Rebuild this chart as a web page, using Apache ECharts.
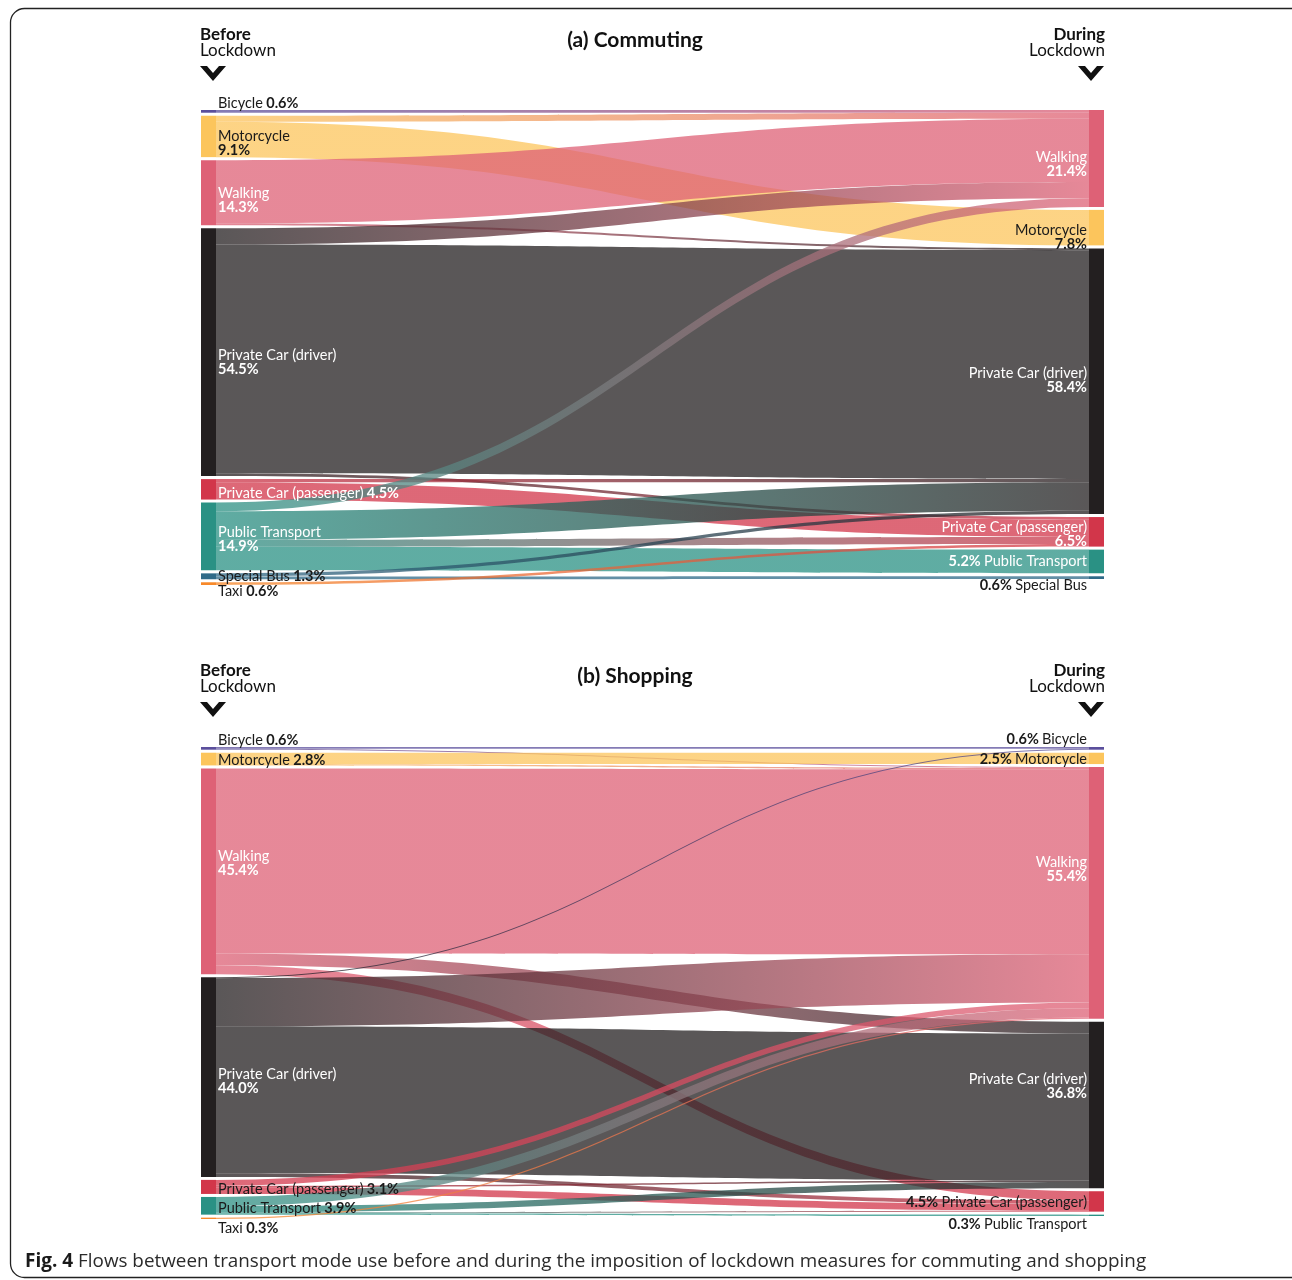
<!DOCTYPE html>
<html>
<head>
<meta charset="utf-8">
<script src="https://cdn.jsdelivr.net/npm/echarts@6/dist/echarts.min.js"></script>
<style>
html,body{margin:0;padding:0;background:#fff;}
#chart{width:1292px;height:1280px;}
</style>
</head>
<body>
<div id="chart"></div>
<script>
// ---------------- DATA ----------------
const commuteBeforeModes = ['Bicycle','Motorcycle','Walking','Private Car (driver)','Private Car (passenger)','Public Transport','Special Bus','Taxi'];
const commuteBeforeShare = [0.6, 9.1, 14.3, 54.5, 4.5, 14.9, 1.3, 0.6];
const commuteDuringModes = ['Walking','Motorcycle','Private Car (driver)','Private Car (passenger)','Public Transport','Special Bus'];
const commuteDuringShare = [21.4, 7.8, 58.4, 6.5, 5.2, 0.6];
const commuteFlows = [
  ['Bicycle','Walking',0.6],
  ['Motorcycle','Walking',1.3],
  ['Motorcycle','Motorcycle',7.8],
  ['Walking','Walking',13.9],
  ['Walking','Private Car (driver)',0.4],
  ['Private Car (driver)','Walking',3.6],
  ['Private Car (driver)','Private Car (driver)',50.3],
  ['Private Car (driver)','Private Car (passenger)',0.6],
  ['Private Car (passenger)','Private Car (driver)',0.7],
  ['Private Car (passenger)','Private Car (passenger)',3.8],
  ['Public Transport','Walking',1.9],
  ['Public Transport','Private Car (driver)',6.3],
  ['Public Transport','Private Car (passenger)',1.5],
  ['Public Transport','Public Transport',5.2],
  ['Special Bus','Private Car (driver)',0.7],
  ['Special Bus','Special Bus',0.6],
  ['Taxi','Private Car (passenger)',0.6]
];

const shopBeforeModes = ['Bicycle','Motorcycle','Walking','Private Car (driver)','Private Car (passenger)','Public Transport','Taxi'];
const shopBeforeShare = [0.6, 2.8, 45.4, 44.0, 3.1, 3.9, 0.3];
const shopDuringModes = ['Bicycle','Motorcycle','Walking','Private Car (driver)','Private Car (passenger)','Public Transport'];
const shopDuringShare = [0.6, 2.5, 55.4, 36.8, 4.5, 0.3];
const shopFlows = [
  ['Bicycle','Bicycle',0.4],
  ['Bicycle','Walking',0.2],
  ['Motorcycle','Motorcycle',2.5],
  ['Motorcycle','Walking',0.3],
  ['Walking','Walking',40.8],
  ['Walking','Private Car (driver)',2.6],
  ['Walking','Private Car (passenger)',2.0],
  ['Private Car (driver)','Bicycle',0.2],
  ['Private Car (driver)','Walking',10.6],
  ['Private Car (driver)','Private Car (driver)',32.4],
  ['Private Car (driver)','Private Car (passenger)',0.8],
  ['Private Car (passenger)','Walking',1.3],
  ['Private Car (passenger)','Private Car (driver)',0.3],
  ['Private Car (passenger)','Private Car (passenger)',1.5],
  ['Public Transport','Walking',2.0],
  ['Public Transport','Private Car (driver)',1.4],
  ['Public Transport','Private Car (passenger)',0.2],
  ['Public Transport','Public Transport',0.3],
  ['Taxi','Walking',0.3]
];

const panelTitles = ['(a) Commuting', '(b) Shopping'];
const captionBold = 'Fig. 4';
const captionText = ' Flows between transport mode use before and during the imposition of lockdown measures for commuting and shopping';

// ---------------- STYLE ----------------
const modeColor = {
  'Bicycle': '#5b4f9c',
  'Motorcycle': '#fcc55c',
  'Walking': '#de6176',
  'Private Car (driver)': '#231f20',
  'Private Car (passenger)': '#d2364a',
  'Public Transport': '#2a9184',
  'Special Bus': '#2f6a88',
  'Taxi': '#f7892a'
};
const FONT = 'Lato';
// label tweaks: inline (one line), pctFirst, dy offset, white text
const labelTweaks = {
  c: {
    B: {
      'Bicycle': {inline:true, dy:-8},
      'Motorcycle': {dy:7},
      'Walking': {white:true, dy:8},
      'Private Car (driver)': {white:true, dy:10},
      'Private Car (passenger)': {inline:true, white:true, dy:4},
      'Public Transport': {white:true, dy:3},
      'Special Bus': {inline:true, dy:0},
      'Taxi': {inline:true, dy:8}
    },
    D: {
      'Walking': {white:true, dy:6},
      'Motorcycle': {dy:10},
      'Private Car (driver)': {white:true, dy:-1},
      'Private Car (passenger)': {white:true, dy:2},
      'Public Transport': {inline:true, pctFirst:true, white:true},
      'Special Bus': {inline:true, pctFirst:true, dy:8}
    }
  },
  s: {
    B: {
      'Bicycle': {inline:true, dy:-8},
      'Motorcycle': {inline:true, dy:1},
      'Walking': {white:true, dy:-8},
      'Private Car (driver)': {white:true, dy:4},
      'Private Car (passenger)': {inline:true, dy:2},
      'Public Transport': {inline:true, dy:3},
      'Taxi': {inline:true, dy:10}
    },
    D: {
      'Bicycle': {inline:true, pctFirst:true, dy:-9},
      'Motorcycle': {inline:true, pctFirst:true, dy:1},
      'Walking': {white:true, dy:-24},
      'Private Car (driver)': {white:true, dy:-19},
      'Private Car (passenger)': {inline:true, pctFirst:true, dy:1},
      'Public Transport': {inline:true, pctFirst:true, dy:9}
    }
  }
};

function makeNode(chart, side, mode, share) {
  const tw = labelTweaks[chart][side][mode] || {};
  const col = tw.white ? '#ffffff' : '#1a1a1a';
  const pct = share.toFixed(1) + '%';
  let fmt;
  if (tw.inline) {
    fmt = tw.pctFirst ? '{v|' + pct + '} {n|' + mode + '}' : '{n|' + mode + '} {v|' + pct + '}';
  } else {
    fmt = '{n|' + mode + '}\n{v|' + pct + '}';
  }
  return {
    name: side + ':' + mode,
    itemStyle: {color: modeColor[mode], borderWidth: 0},
    label: {
      show: true,
      position: side === 'B' ? 'right' : 'left',
      distance: 2,
      align: side === 'B' ? 'left' : 'right',
      offset: [0, tw.dy || 0],
      formatter: fmt,
      rich: {
        n: {fontFamily: FONT, fontSize: 14.5, color: col, lineHeight: 14, align: side === 'B' ? 'left' : 'right'},
        v: {fontFamily: FONT, fontSize: 14.5, fontWeight: 'bold', color: col, lineHeight: 14, align: side === 'B' ? 'left' : 'right'}
      }
    }
  };
}

function buildSeries(chart, beforeModes, beforeShare, duringModes, duringShare, flows, top, height) {
  const nodes = [];
  beforeModes.forEach((m, i) => nodes.push(makeNode(chart, 'B', m, beforeShare[i])));
  duringModes.forEach((m, i) => nodes.push(makeNode(chart, 'D', m, duringShare[i])));
  const links = flows.map(f => ({source: 'B:' + f[0], target: 'D:' + f[1], value: f[2]}));
  return {
    type: 'sankey',
    left: 201,
    top: top,
    width: 903,
    height: height,
    nodeWidth: 15,
    nodeGap: 3,
    layoutIterations: 0,
    nodeAlign: 'justify',
    draggable: false,
    animation: false,
    data: nodes,
    links: links,
    lineStyle: {color: 'gradient', opacity: 0.75, curveness: 0.5},
    emphasis: {disabled: true},
    label: {show: true}
  };
}

function chevron(x, y) {
  return {
    type: 'polygon',
    shape: {points: [[x, y], [x + 7, y], [x + 13, y + 7], [x + 19, y], [x + 26, y], [x + 13, y + 15]]},
    style: {fill: '#111'}
  };
}

function header(yTop, title) {
  return [
    {type: 'text', left: 200, top: yTop, style: {text: 'Before', font: 'bold 17px ' + FONT, fill: '#111'}},
    {type: 'text', left: 200, top: yTop + 16, style: {text: 'Lockdown', font: '17px ' + FONT, fill: '#111'}},
    {type: 'text', right: 1292 - 1105, top: yTop, style: {text: 'During', font: 'bold 17px ' + FONT, fill: '#111', align: 'right'}},
    {type: 'text', right: 1292 - 1105, top: yTop + 16, style: {text: 'Lockdown', font: '17px ' + FONT, fill: '#111', align: 'right'}},
    chevron(200, yTop + 40),
    chevron(1078, yTop + 40),
    {type: 'text', x: 635, y: yTop + 14, style: {text: title, font: 'bold 21px ' + FONT, fill: '#111', align: 'center', verticalAlign: 'middle'}}
  ];
}

const chart = echarts.init(document.getElementById('chart'), null, {renderer: 'canvas'});
const option = {
  backgroundColor: '#ffffff',
  animation: false,
  graphic: [
    {type: 'rect', shape: {x: 10.5, y: 8.5, width: 1300, height: 1269, r: 14}, style: {fill: 'none', stroke: '#222', lineWidth: 1.3}},
    ...header(26, panelTitles[0]),
    ...header(662, panelTitles[1]),
    {type: 'text', x: 25, y: 1262, style: {
      text: '{b|' + captionBold + '}{t|' + captionText + '}',
      verticalAlign: 'middle',
      rich: {
        b: {font: 'bold 19px "Open Sans"', fill: '#1a1a1a'},
        t: {font: '18.85px "Open Sans"', fill: '#2a2a2a'}
      }
    }}
  ],
  series: [
    buildSeries('c', commuteBeforeModes, commuteBeforeShare, commuteDuringModes, commuteDuringShare, commuteFlows, 110, 475),
    buildSeries('s', shopBeforeModes, shopBeforeShare, shopDuringModes, shopDuringShare, shopFlows, 747, 472)
  ]
};
chart.setOption(option);
</script>
</body>
</html>
